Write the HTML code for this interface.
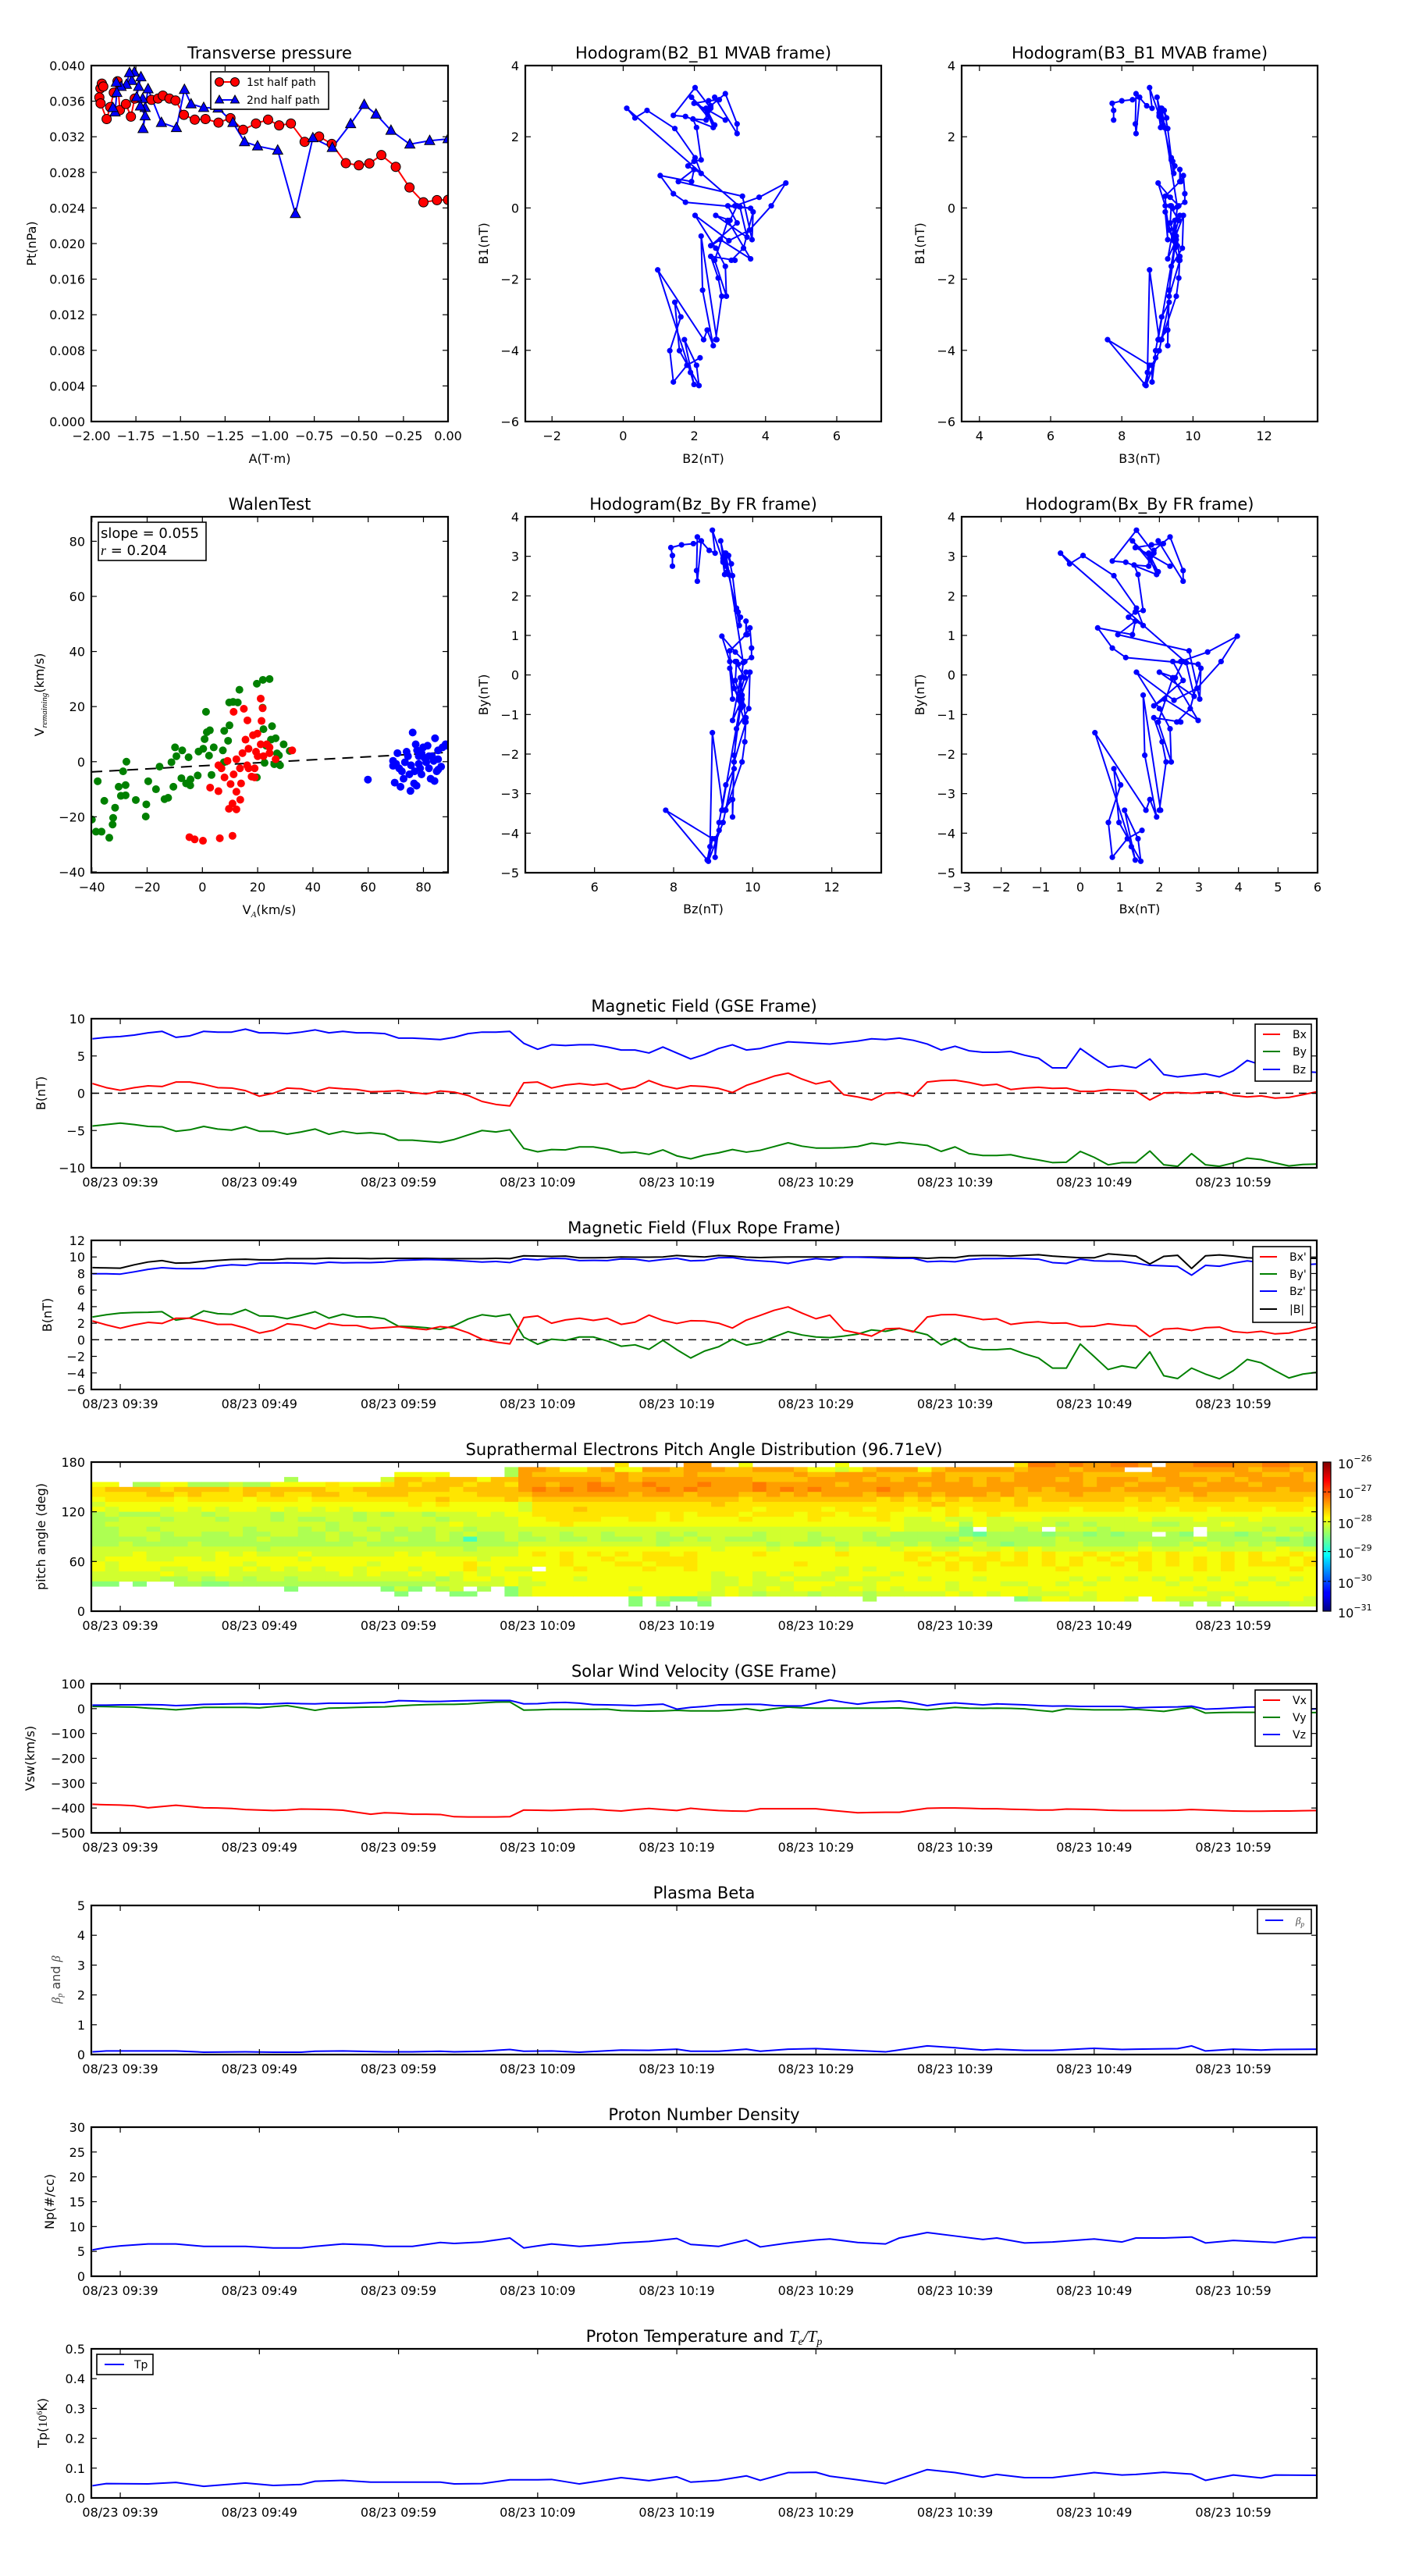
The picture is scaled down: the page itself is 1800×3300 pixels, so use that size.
<!DOCTYPE html>
<html><head><meta charset="utf-8">
<style>
html,body{margin:0;padding:0;background:#fff;}
svg{display:block;font-family:"DejaVu Sans","Liberation Sans",sans-serif;}
</style></head>
<body>
<svg id="fig" xmlns="http://www.w3.org/2000/svg" width="1800" height="3300" viewBox="0 0 1800 3300">
<rect x="0" y="0" width="1800" height="3300" fill="#fff"></rect>
<defs>
<linearGradient id="jetgrad" x1="0" y1="1" x2="0" y2="0">
<stop offset="0" stop-color="#00007f"/><stop offset="0.11" stop-color="#0000ff"/><stop offset="0.125" stop-color="#0000ff"/>
<stop offset="0.34" stop-color="#00d4ff"/><stop offset="0.375" stop-color="#00ffff"/><stop offset="0.5" stop-color="#7fff7f"/>
<stop offset="0.625" stop-color="#ffff00"/><stop offset="0.75" stop-color="#ff8000"/><stop offset="0.875" stop-color="#ff0000"/><stop offset="1" stop-color="#7f0000"/>
</linearGradient>
</defs>
</svg>
<script>
// ---------------- DATA ----------------
const ptRedA = [-1.949,-1.941,-1.933,-1.955,-1.948,-1.914,-1.894,-1.874,-1.853,-1.840,-1.806,-1.778,-1.757,-1.663,-1.626,-1.599,-1.562,-1.528,-1.481,-1.420,-1.360,-1.287,-1.220,-1.149,-1.077,-1.009,-0.947,-0.881,-0.804,-0.723,-0.652,-0.573,-0.500,-0.441,-0.374,-0.293,-0.216,-0.138,-0.062,0.000];
const ptRedP = [0.03744,0.03797,0.03764,0.03642,0.03575,0.03399,0.03534,0.03696,0.03824,0.03500,0.03568,0.03426,0.03629,0.03615,0.03629,0.03662,0.03629,0.03608,0.03446,0.03392,0.03399,0.03359,0.03409,0.03278,0.03349,0.03392,0.03328,0.03349,0.03143,0.03203,0.03119,0.02903,0.02879,0.02900,0.02994,0.02862,0.02630,0.02464,0.02488,0.02491];
const ptBlueA = [0.000,-0.103,-0.214,-0.320,-0.404,-0.470,-0.546,-0.649,-0.758,-0.856,-0.955,-1.068,-1.141,-1.206,-1.289,-1.370,-1.441,-1.478,-1.523,-1.607,-1.682,-1.698,-1.710,-1.698,-1.725,-1.712,-1.746,-1.735,-1.722,-1.759,-1.773,-1.786,-1.803,-1.833,-1.860,-1.857,-1.867,-1.879];
const ptBlueP = [0.03176,0.03156,0.03116,0.03271,0.03453,0.03561,0.03345,0.03078,0.03187,0.02336,0.03048,0.03095,0.03143,0.03359,0.03521,0.03527,0.03568,0.03730,0.03301,0.03359,0.03737,0.03527,0.03291,0.03433,0.03544,0.03629,0.03646,0.03764,0.03872,0.03926,0.03831,0.03919,0.03787,0.03764,0.03811,0.03696,0.03477,0.03527];

const walenGreenX = [-40,-38.5,-36.5,-37.9,-35.5,-33.7,-32.5,-32.3,-31.6,-30.3,-29.5,-28.7,-27.8,-27.8,-27.5,-24.1,-20.3,-20.5,-19.6,-16.8,-15.5,-13.7,-12.4,-10.5,-11.2,-9.9,-9.4,-7.3,-7.6,-5.9,-5.0,-4.3,-4.4,-1.4,-1.7,0.3,0.8,1.3,1.6,2.7,2.4,3.3,4.1,7.4,7.9,7.8,9.3,9.8,9.7,11.1,12.8,13.4,19.7,21.9,24.3,21.8,22.1,23.1,25.2,24.8,26.5,28.1,27.0,29.4,31.6,19.7,22.5,26.0,27.7];
const walenGreenY = [-21,-25.4,-25.4,-7.1,-14.2,-27.6,-22.8,-20.4,-16.7,-9.1,-12.4,-3.5,-8.5,-12.2,0,-13.9,-15.5,-19.9,-7.1,-10.0,-1.8,-13.6,-13.1,-9.1,-0.2,5.2,2.0,4.1,-6.0,-7.9,1.6,-6.4,-8.6,3.7,-5.0,4.7,8.2,18.1,10.7,11.4,2.2,-4.8,5.2,4.1,11.2,-0.2,7.6,13.2,21.5,21.7,21.5,26.1,28.3,29.7,30.0,19.6,11.8,5.8,12.9,8.0,8.5,-1.3,3.0,6.3,3.9,-5.7,-0.4,-0.9,2.3];
const walenRedX = [-4.7,-2.8,0.2,6.3,10.9,2.8,5.8,9.6,10.9,12.3,12.3,13.7,14.0,10.2,11.3,15.0,16.3,21.1,21.8,21.4,17.8,18.9,16.2,16.7,18.3,19.9,22.1,24.3,26.5,32.5,6.9,9.1,5.8,12.3,14.5,15.6,19.4,13.6,18.9,21.1,23.3,8.0,11.3,16.7,20.0,24.3];
const walenRedY = [-27.4,-28.2,-28.7,-27.8,-26.9,-9.4,-10.7,-17.1,-15.2,-17.3,-10.9,-13.8,-7.9,-8.1,18.1,19.2,15.0,22.9,19.4,14.8,-5.4,-5.7,-1.3,4.7,9.6,10.2,2.0,3.1,0.9,4.1,-2.4,0.3,-1.3,0.9,3.1,8.0,3.6,-2.4,-2.4,6.3,6.3,-5.7,-4.6,-2.4,2.0,5.2];
const walenBlueX = [59.9,70.6,69.0,69.0,69.6,71.7,72.8,75.3,76.1,76.6,77.5,77.2,77.7,78.3,78.8,79.3,79.9,81.0,82.0,83.1,84.2,85.3,84.0,82.6,84.8,85.3,86.4,88.0,73.3,71.2,74.4,75.5,72.2,74.9,78.3,80.4,81.5,83.7,86.9,70.1,73.9,76.8,79.3,82.0,85.3,88.6];
const walenBlueY = [-6.5,3.1,0.3,-1.5,-7.6,-9.1,-6.2,-10.6,10.6,-7.9,-8.7,6.3,4.1,2.0,-2.4,-4.6,5.2,-0.2,-2.4,2.0,8.5,4.1,-7.0,-6.2,-3.5,-2.9,-1.8,6.3,-0.2,-2.4,2.0,-1.3,-3.5,-4.6,-0.8,1.4,5.8,0.3,5.2,-0.8,3.6,-3.5,3.1,2.0,0.9,5.8];
const walenSlope = 0.055;
const walenIntercept = -1.5;
const walenR = 0.204;

const timeTicks = [0,10,20,30,40,50,60,70,80];
const timeTickLabels = ['08/23 09:39','08/23 09:49','08/23 09:59','08/23 10:09','08/23 10:19','08/23 10:29','08/23 10:39','08/23 10:49','08/23 10:59'];
const timeStart = -2;

const bx = [1.3,0.75,0.4,0.75,1.0,0.9,1.5,1.5,1.2,0.75,0.7,0.35,-0.4,0,0.7,0.6,0.2,0.75,0.6,0.5,0.2,0.25,0.35,0.1,-0.1,0.3,0.15,-0.3,-1.1,-1.5,-1.7,1.4,1.5,0.7,1.1,1.3,1.1,1.3,0.5,0.8,1.7,1.0,0.6,1.0,0.9,
0.65,0.1,1.05,1.65,2.3,2.7,1.9,1.25,1.65,-0.2,-0.5,-0.9,0,0.1,-0.4,1.5,1.7,1.75,1.45,1.05,1.2,0.5,0.7,0.8,0.65,0.7,0.25,0.25,0.5,0.4,0.3,-0.9,0.05,0.1,0,0.15,0.2,-0.3,-0.5,-0.35,-0.65,-0.55,-0.2,0.2];
const by = [-4.4,-4.2,-4.0,-4.2,-4.45,-4.5,-5.1,-4.9,-4.45,-4.8,-4.95,-4.5,-5.1,-5.1,-5.5,-5.2,-4.8,-5.5,-5.1,-5.4,-5.3,-5.5,-6.3,-6.3,-6.45,-6.6,-6.2,-5.6,-5.0,-5.2,-4.9,-7.4,-7.85,-7.55,-7.6,-7.2,-7.2,-7.5,-8.0,-7.9,-8.2,-7.6,-8.4,-8.8,-8.3,
-8.0,-7.55,-7.9,-7.65,-7.15,-6.65,-7.1,-7.35,-7.35,-7.3,-7.15,-6.7,-6.9,-6.6,-6.8,-7.0,-7.8,-7.2,-8.1,-8.35,-8.35,-8.25,-8.65,-8.95,-9.3,-9.25,-7.8,-8.6,-9.6,-9.3,-9.3,-7.75,-9.6,-9.8,-8.1,-9.6,-9.8,-9.35,-8.7,-8.9,-9.35,-9.75,-9.55,-9.5];
const bz = [7.3,7.5,7.6,7.8,8.1,8.3,7.5,7.7,8.3,8.2,8.2,8.6,8.1,8.1,8.0,8.2,8.5,8.1,8.3,8.1,8.1,8.0,7.4,7.4,7.3,7.2,7.5,8.0,8.2,8.2,8.3,6.7,5.9,6.5,6.4,6.5,6.5,6.2,5.8,5.8,5.4,6.2,5.4,4.6,5.2,
6.0,6.5,5.8,6.0,6.5,6.9,6.8,6.7,6.6,6.8,7.0,7.3,7.2,7.4,7.1,6.6,5.8,6.3,5.7,5.5,5.5,5.6,5.1,4.7,3.4,3.4,6.0,4.7,3.5,3.7,3.4,4.6,2.5,2.2,2.4,2.6,2.2,3.0,4.4,3.8,3.5,3.1,2.9,2.8];

const bxp = [2.27,1.8,1.39,1.8,2.1,1.97,2.6,2.6,2.27,1.86,1.86,1.42,0.81,1.15,1.93,1.76,1.32,1.97,1.73,1.73,1.36,1.46,1.59,1.39,1.22,1.59,1.42,0.85,0.07,-0.27,-0.5,2.68,2.88,2.0,2.4,2.6,2.34,2.6,1.86,2.13,2.98,2.34,1.97,2.3,2.27,
2.0,1.42,2.37,2.95,3.56,3.97,3.22,2.54,2.98,1.15,0.81,0.44,1.32,1.39,0.95,2.75,3.02,3.05,2.78,2.44,2.54,1.86,2.07,2.17,2.0,2.03,1.59,1.63,1.93,1.76,1.66,0.37,1.29,1.39,1.12,1.46,1.53,0.98,0.85,1.02,0.71,0.81,1.19,1.56];
const byp = [2.75,3.02,3.22,3.29,3.32,3.39,2.37,2.64,3.49,3.15,3.08,3.66,2.88,2.85,2.54,2.95,3.39,2.61,3.08,2.75,2.78,2.54,1.63,1.59,1.46,1.25,1.69,2.51,3.02,2.81,3.08,0.31,-0.54,0.07,-0.07,0.34,0.34,-0.14,-0.78,-0.61,-1.15,-0.07,-1.19,-2.2,-1.36,
-0.85,0.07,-0.64,-0.34,0.34,0.98,0.58,0.34,0.27,0.44,0.68,1.19,1.02,1.36,1.02,0.61,-0.61,0.17,-0.85,-1.19,-1.19,-1.08,-1.69,-2.2,-3.42,-3.42,-0.51,-2.03,-3.59,-3.15,-3.42,-1.46,-4.34,-4.68,-3.42,-4.14,-4.71,-3.73,-2.37,-2.78,-3.73,-4.61,-4.14,-3.93];
const bzp = [7.97,7.97,7.93,8.2,8.5,8.7,8.6,8.58,8.6,8.9,9.05,8.98,9.25,9.25,9.29,9.25,9.19,9.36,9.29,9.32,9.32,9.39,9.59,9.63,9.69,9.66,9.59,9.49,9.39,9.46,9.32,9.76,9.66,9.83,9.8,9.56,9.59,9.56,9.76,9.73,9.49,9.69,9.83,9.53,9.59,
9.9,9.93,9.66,9.53,9.42,9.22,9.56,9.8,9.63,9.97,9.97,9.93,9.86,9.83,9.83,9.42,9.49,9.42,9.69,9.8,9.8,9.83,9.8,9.73,9.32,9.22,9.73,9.53,9.49,9.49,9.25,8.98,8.92,8.85,7.8,8.98,8.88,9.25,9.53,9.32,9.15,9.05,9.05,9.15];
const bt = [8.71,8.68,8.64,9.05,9.39,9.56,9.25,9.29,9.49,9.59,9.69,9.73,9.66,9.66,9.8,9.8,9.8,9.86,9.83,9.83,9.8,9.83,9.83,9.83,9.83,9.8,9.8,9.8,9.8,9.83,9.8,10.14,10.1,10.07,10.1,9.9,9.9,9.93,10.0,9.97,9.97,10.0,10.17,10.07,10.0,
10.17,10.1,9.97,9.93,9.97,10.0,10.0,10.0,10.0,10.0,10.0,10.0,9.97,9.93,9.93,9.83,9.93,9.9,10.14,10.17,10.17,10.1,10.2,10.27,10.1,10.0,9.9,9.9,10.37,10.24,10.1,9.15,10.07,10.2,8.61,10.14,10.24,10.1,9.9,9.83,9.83,9.83,9.83,9.83];

const b1 = [2.47,2.74,2.94,3.01,3.04,3.11,2.09,2.36,3.21,2.87,2.80,3.38,2.60,2.57,2.26,2.67,3.11,2.33,2.80,2.47,2.50,2.26,1.35,1.31,1.18,0.97,1.41,2.23,2.74,2.53,2.80,0.03,-0.82,-0.21,-0.35,0.06,0.06,-0.42,-1.06,-0.89,-1.43,-0.35,-1.47,-2.48,-1.64,
-1.13,-0.21,-0.92,-0.62,0.06,0.70,0.30,0.06,-0.01,0.16,0.40,0.91,0.74,1.08,0.74,0.33,-0.89,-0.11,-1.13,-1.47,-1.47,-1.36,-1.97,-2.48,-3.70,-3.70,-0.79,-2.31,-3.87,-3.43,-3.70,-1.74,-4.62,-4.96,-3.70,-4.42,-4.99,-4.01,-2.65,-3.06,-4.01,-4.89,-4.42,-4.21];
const b2 = [2.87,2.40,1.99,2.40,2.70,2.57,3.20,3.20,2.87,2.46,2.46,2.02,1.41,1.75,2.53,2.36,1.92,2.57,2.33,2.33,1.96,2.06,2.19,1.99,1.82,2.19,2.02,1.45,0.67,0.33,0.10,3.28,3.48,2.60,3.00,3.20,2.94,3.20,2.46,2.73,3.58,2.94,2.57,2.90,2.87,
2.60,2.02,2.97,3.55,4.16,4.57,3.82,3.14,3.58,1.75,1.41,1.04,1.92,1.99,1.55,3.35,3.62,3.65,3.38,3.04,3.14,2.46,2.67,2.77,2.60,2.63,2.19,2.23,2.53,2.36,2.26,0.97,1.89,1.99,1.72,2.06,2.13,1.58,1.45,1.62,1.31,1.41,1.79,2.16];
const b3 = [7.77,7.77,7.73,8.00,8.30,8.50,8.40,8.38,8.40,8.70,8.85,8.78,9.05,9.05,9.09,9.05,8.99,9.16,9.09,9.12,9.12,9.19,9.39,9.43,9.49,9.46,9.39,9.29,9.19,9.26,9.12,9.56,9.46,9.63,9.60,9.36,9.39,9.36,9.56,9.53,9.29,9.49,9.63,9.33,9.39,
9.70,9.73,9.46,9.33,9.22,9.02,9.36,9.60,9.43,9.77,9.77,9.73,9.66,9.63,9.63,9.22,9.29,9.22,9.49,9.60,9.60,9.63,9.60,9.53,9.12,9.02,9.53,9.33,9.29,9.29,9.05,8.78,8.72,8.65,7.60,8.78,8.68,9.05,9.33,9.12,8.95,8.85,8.85,8.95];

const vx = [-385,-387,-388,-391,-399,-394,-389,-394,-399,-400,-402,-406,-408,-410,-408,-404,-405,-406,-409,-417,-425,-419,-421,-425,-425,-426,-435,-436,-436,-436,-435,-408,-409,-410,-408,-405,-404,-409,-412,-406,-402,-406,-410,-401,-406,
-410,-412,-413,-403,-403,-403,-403,-403,-409,-414,-419,-418,-417,-417,-409,-401,-400,-400,-401,-403,-403,-405,-406,-408,-408,-404,-405,-406,-409,-410,-410,-410,-410,-409,-406,-408,-410,-412,-413,-413,-412,-412,-411,-410];
const vy = [9,8,7,6,2,-1,-5,0,5,5,5,5,3,8,12,3,-7,2,3,5,6,7,11,14,16,17,17,19,23,26,27,-6,-5,-3,-3,-3,-3,-2,-8,-9,-10,-9,-7,-9,-9,
-9,-6,0,-8,0,6,3,2,2,2,2,2,2,3,-1,-5,0,5,2,1,2,1,-1,-7,-12,-1,-3,-5,-5,-5,-3,-7,-11,-3,5,-18,-16,-15,-15,-15,-15,-15,-16,-16];
const vz = [14,14,15,15,16,15,12,14,17,18,19,20,18,19,22,20,19,22,22,22,24,25,32,31,29,29,31,32,33,33,33,19,20,24,25,22,16,15,14,12,15,18,-2,5,9,
15,16,17,17,12,11,11,23,35,26,18,25,28,31,23,12,19,23,19,15,19,17,15,12,10,11,9,9,9,9,3,5,6,7,10,-2,0,3,6,7,7,-2,-3,-1];

const plasmaIdx = [0,1,4,6,8,11,13,15,16,18,21,23,25,26,28,30,31,33,35,38,40,42,43,44,45,47,48,50,52,57,60,62,64,65,67,69,72,74,75,78,79,80,82,84,85,88];
const betaP = [0.09,0.12,0.12,0.12,0.08,0.09,0.08,0.08,0.11,0.12,0.09,0.09,0.11,0.09,0.11,0.17,0.11,0.12,0.08,0.15,0.14,0.18,0.11,0.11,0.11,0.18,0.11,0.18,0.20,0.09,0.29,0.23,0.15,0.18,0.14,0.14,0.21,0.17,0.18,0.20,0.29,0.12,0.18,0.15,0.17,0.18];
const densityIdx = [0,1,2,4,6,8,11,13,15,16,18,20,21,23,25,26,28,30,31,32,33,35,37,38,40,42,43,44,45,47,48,50,52,53,55,57,58,60,62,64,65,67,69,72,74,75,77,79,80,82,85,87,88];
const density = [5.3,5.8,6.1,6.5,6.5,6.0,6.0,5.7,5.7,6.0,6.5,6.3,6.0,6.0,6.8,6.6,6.9,7.7,5.7,6.1,6.5,6.0,6.4,6.7,7.0,7.6,6.4,6.2,6.0,7.3,5.9,6.7,7.3,7.5,6.8,6.5,7.7,8.8,8.1,7.4,7.7,6.7,6.9,7.5,6.9,7.7,7.7,7.9,6.7,7.2,6.8,7.8,7.8];
const tempIdx = [0,1,4,6,8,11,13,15,16,18,20,23,25,26,28,30,32,33,35,38,40,42,43,44,45,47,48,50,52,53,55,57,60,62,64,65,67,69,72,74,75,77,79,80,82,84,85,88];
const tempP = [0.041,0.048,0.047,0.052,0.039,0.050,0.042,0.045,0.056,0.059,0.053,0.053,0.053,0.047,0.048,0.061,0.061,0.062,0.047,0.068,0.058,0.071,0.053,0.056,0.059,0.074,0.059,0.085,0.086,0.073,0.061,0.048,0.095,0.085,0.070,0.079,0.068,0.068,0.085,0.077,0.079,0.086,0.080,0.059,0.077,0.067,0.077,0.076];

const padRows = [
"......................"+"........."+".......6....88"+"..5......5...."+"........699898"+"8998.88999889988",
"......................"+"........3"+"88755785588788"+"87788875545788"+"85788888788878"+"88..888888878878",
"......................"+"5555....3"+"87777778777787"+"77777787788877"+"77877777888887"+"7777887777887787",
"..............3......4"+"776777577"+"88888878788888"+"88877778888787"+"88878787888787"+"8887788878788887",
"55.3355333433555565556"+"767776776"+"88788988898889"+"88898888878888"+"87888788888887"+"8878888788878888",
"6777767777677777766777"+"777767777"+"89898998889898"+"88898989888898"+"88888888787888"+"8788878888888788",
"6666776766676766776677"+"766666777"+"78888888788878"+"88778787888788"+"78788878777787"+"7777777877777777",
"5666665666656665666666"+"666766667"+"67777777777777"+"77677777777767"+"67676776767777"+"7767676777677776",
"4555555555555555555555"+"565655555"+"46666666666666"+"76666666666666"+"66766666766666"+"6666666666666666",
"5455545454554545454555"+"555555555"+"46667666666666"+"66656666566566"+"56565666666656"+"6656656656665665",
"3433344434444344444343"+"443444545"+"56666666665656"+"66566656656665"+"55565565555555"+"5555555555555555",
"3344434443444343344344"+"444344444"+"55666655665655"+"55655556555565"+"44544544554444"+"4445444544454444",
"3444444444444444434444"+"444454444"+"55565555555555"+"55555555555555"+"44453544444343"+"4444334445444444",
"3344344444434443434434"+"343443444"+"44444444444444"+"44444444444445"+"44442.4434.444"+"3444444.44443434",
"3344434433433443343443"+"333434334"+"34434434443434"+"44434443444343"+"33332133332332"+"3233.32.33234443",
"3333433333334333343343"+"433430334"+"33433433343343"+"43334443344333"+"33324333333433"+"3333333433333232",
"3343333433333333333433"+"333333333"+"44444444443444"+"44443433434434"+"34333432333443"+"3334334343434332",
"4444444444443444444444"+"444443444"+"55555555555555"+"45554555545554"+"55445445454444"+"4445444544444544",
"4445444445454445444444"+"545444444"+"56565656566565"+"55565555565555"+"66565565656556"+"5656565556565565",
"4555445545555554555555"+"555555455"+"55565565566665"+"55555555555555"+"65656665656565"+"6566565656565656",
"5455555555545555555545"+"555556555"+"55565556656665"+"55555565555555"+"56565656656565"+"5656565656566656",
"5455544555454545455455"+"545556454"+"4.556555565565"+"55555555545455"+"55565655555655"+"5556555656555565",
"4444454445444444445454"+"454545455"+"55555555555555"+"45545455445554"+"55555555555555"+"5555555555555555",
"4444433434434434444444"+"444345545"+"45554555555555"+"44544544455445"+"54555455555545"+"4545454545544545",
"22.2..3322333333333333"+"333444445"+"44555555555555"+"44544455544455"+"55545554455454"+"5555545555455455",
"..............2......2"+"42.34.3.2"+"45555555455555"+"45445455445454"+"55545555545555"+"5555555455555555",
"......................"+"2...22..2"+"45555555555554"+"45434443444344"+"44454545544454"+"5555555544555555",
"......................"+"........."+"........2.3223"+"...........3.."+"........235544"+"554.544445455554",
"......................"+"........."+"........2.2..2"+".............."+".............."+"......3.3.333344",
"......................"+"........."+".............."+".............."+".............."+"................"
];
const padColStart = -2.08;
const padColWidth = 0.99;
const padBinDeg = 6;
const cbarTicks = [-31,-30,-29,-28,-27,-26];

// ---------------- DRAWING ----------------
const NS = 'http://www.w3.org/2000/svg';
const svg = document.getElementById('fig');
let clipCount = 0;
function el(tag, attrs, parent) {
  const e = document.createElementNS(NS, tag);
  for (const k in attrs) e.setAttribute(k, attrs[k]);
  (parent || svg).appendChild(e);
  return e;
}
function fmtNum(v, dec) {
  const s = Math.abs(v).toFixed(dec);
  return (v < 0 && Number(s) !== 0 ? '\u2212' : '') + s;
}
function txt(parent, x, y, s, size, anchor, rot) {
  const t = el('text', {x: x, y: y, 'font-size': size, 'text-anchor': anchor || 'middle', fill: '#000'}, parent);
  if (rot) t.setAttribute('transform', 'rotate(' + rot + ' ' + x + ' ' + y + ')');
  t.textContent = s;
  return t;
}
function makeAxes(p) {
  const g = el('g', {}, svg);
  
  
  const sx = v => p.x + (v - p.xlim[0]) / (p.xlim[1] - p.xlim[0]) * p.w;
  const sy = v => p.y + p.h - (v - p.ylim[0]) / (p.ylim[1] - p.ylim[0]) * p.h;
  const id = 'clip' + (clipCount++);
  const cp = el('clipPath', {id: id}, g);
  el('rect', {x: p.x, y: p.y, width: p.w, height: p.h}, cp);
  const data = el('g', {'clip-path': 'url(#' + id + ')'}, g);
  
  
  return {p, g, data, sx, sy};
}
function finishAxes(A) {
  const p = A.p, g = A.g;
  const tg = el('g', {stroke: '#000', 'stroke-width': 1.2}, g);
  
  
  const L = 7;
  p.xticks.forEach((v, i) => {
    const X = A.sx(v);
    el('line', {x1: X, y1: p.y + p.h, x2: X, y2: p.y + p.h - L}, tg);
    el('line', {x1: X, y1: p.y, x2: X, y2: p.y + L}, tg);
    const t = txt(g, X, p.y + p.h + 24, p.xlabels[i], 16, 'middle');
    
    
  });
  p.yticks.forEach((v, i) => {
    const Y = A.sy(v);
    el('line', {x1: p.x, y1: Y, x2: p.x + L, y2: Y}, tg);
    el('line', {x1: p.x + p.w, y1: Y, x2: p.x + p.w - L, y2: Y}, tg);
    const t = txt(g, p.x - 8, Y + 6, p.ylabels[i], 16, 'end');
    
    
  });
  const fr = el('rect', {x: p.x, y: p.y, width: p.w, height: p.h, fill: 'none', stroke: '#000', 'stroke-width': 2.2}, g);
  
  
  if (p.title) {
    const t = txt(g, p.x + p.w / 2, p.y - 9, p.title, 21, 'middle');
    
    
  }
  if (p.xlabel) {
    const t = txt(g, p.x + p.w / 2, p.xlabelY, p.xlabel, 16, 'middle');
    
    
  }
  if (p.ylabel) {
    const t = txt(g, p.ylabelX, p.y + p.h / 2, p.ylabel, 16, 'middle', -90);
    
    
  }
}
function polyline(A, xs, ys, color, width, name) {
  const pts = xs.map((x, i) => A.sx(x).toFixed(2) + ',' + A.sy(ys[i]).toFixed(2)).join(' ');
  const l = el('polyline', {points: pts, fill: 'none', stroke: color, 'stroke-width': width || 2, 'stroke-linejoin': 'round'}, A.data);
  
  
  return l;
}
function rangeTicks(a, b, s) { const r = []; for (let v = a; v <= b + 1e-9; v += s) r.push(Math.round(v * 1000) / 1000); return r; }

// ---- Transverse pressure ----
{
  const xt = rangeTicks(-2, 0, 0.25), yt = rangeTicks(0, 0.04, 0.004);
  const A = makeAxes({name: 'transverse-pressure-chart', x: 117, y: 84, w: 457, h: 456, xlim: [-2, 0], ylim: [0, 0.04],
    xticks: xt, xlabels: xt.map(v => fmtNum(v, 2)), yticks: yt, ylabels: yt.map(v => fmtNum(v, 3)),
    title: 'Transverse pressure', xlabel: 'A(T\u00b7m)', xlabelY: 593, ylabel: 'Pt(nPa)', ylabelX: 46});
  polyline(A, ptRedA, ptRedP, '#ff0000', 2, 'first-half-path-line');
  polyline(A, ptBlueA, ptBlueP, '#0000ff', 2, 'second-half-path-line');
  ptRedA.forEach((a, i) => {
    const c = el('circle', {cx: A.sx(a), cy: A.sy(ptRedP[i]), r: 6, fill: '#ff0000', stroke: '#000', 'stroke-width': 1}, A.data);
    
    
  });
  ptBlueA.forEach((a, i) => {
    const X = A.sx(a), Y = A.sy(ptBlueP[i]);
    const t = el('polygon', {points: X + ',' + (Y - 7) + ' ' + (X - 6.5) + ',' + (Y + 5) + ' ' + (X + 6.5) + ',' + (Y + 5), fill: '#0000ff', stroke: '#000', 'stroke-width': 1}, A.data);
    
    
  });
  finishAxes(A);
  const lg = el('g', {}, A.g);
  
  
  el('rect', {x: 270, y: 92, width: 151, height: 48, fill: '#fff', stroke: '#000', 'stroke-width': 1.6}, lg);
  el('line', {x1: 281, y1: 105, x2: 301, y2: 105, stroke: '#ff0000', 'stroke-width': 2}, lg);
  el('circle', {cx: 281, cy: 105, r: 5.5, fill: '#ff0000', stroke: '#000'}, lg);
  el('circle', {cx: 301, cy: 105, r: 5.5, fill: '#ff0000', stroke: '#000'}, lg);
  el('line', {x1: 281, y1: 128, x2: 301, y2: 128, stroke: '#0000ff', 'stroke-width': 2}, lg);
  el('polygon', {points: '281,122 275.5,132 286.5,132', fill: '#0000ff', stroke: '#000'}, lg);
  el('polygon', {points: '301,122 295.5,132 306.5,132', fill: '#0000ff', stroke: '#000'}, lg);
  txt(lg, 316, 110, '1st half path', 14, 'start');
  txt(lg, 316, 133, '2nd half path', 14, 'start');
}

// ---- Hodograms ----
function hodogram(name, x, y, xlim, ylim, xt, yt, xs, ys, title, xl, yl, ylx, xly) {
  const A = makeAxes({name: name, x: x, y: y, w: 456, h: 456, xlim: xlim, ylim: ylim,
    xticks: xt, xlabels: xt.map(v => fmtNum(v, 0)), yticks: yt, ylabels: yt.map(v => fmtNum(v, 0)),
    title: title, xlabel: xl, xlabelY: xly, ylabel: yl, ylabelX: ylx});
  polyline(A, xs, ys, '#0000ff', 2, name + '-path');
  xs.forEach((v, i) => {
    const c = el('circle', {cx: A.sx(v), cy: A.sy(ys[i]), r: 3.6, fill: '#0000ff'}, A.data);
    
    
  });
  finishAxes(A);
}
hodogram('hodogram-b2-b1', 673, 84, [-2.75, 7.25], [-6, 4], rangeTicks(-2, 6, 2), rangeTicks(-6, 4, 2), b2, b1, 'Hodogram(B2_B1 MVAB frame)', 'B2(nT)', 'B1(nT)', 625, 593);
hodogram('hodogram-b3-b1', 1232, 84, [3.5, 13.5], [-6, 4], rangeTicks(4, 12, 2), rangeTicks(-6, 4, 2), b3, b1, 'Hodogram(B3_B1 MVAB frame)', 'B3(nT)', 'B1(nT)', 1184, 593);
hodogram('hodogram-bz-by', 673, 662, [4.25, 13.25], [-5, 4], rangeTicks(6, 12, 2), rangeTicks(-5, 4, 1), bzp, byp, 'Hodogram(Bz_By FR frame)', 'Bz(nT)', 'By(nT)', 625, 1170);
hodogram('hodogram-bx-by', 1232, 662, [-3, 6], [-5, 4], rangeTicks(-3, 6, 1), rangeTicks(-5, 4, 1), bxp, byp, 'Hodogram(Bx_By FR frame)', 'Bx(nT)', 'By(nT)', 1184, 1170);

// ---- Walen test ----
{
  const xt = rangeTicks(-40, 80, 20);
  const A = makeAxes({name: 'walen-test-chart', x: 117, y: 662, w: 457, h: 456, xlim: [-40.2, 88.9], ylim: [-40.3, 88.9],
    xticks: xt, xlabels: xt.map(v => fmtNum(v, 0)), yticks: xt, ylabels: xt.map(v => fmtNum(v, 0)), title: 'WalenTest'});
  const dl = el('line', {x1: A.sx(-40.2), y1: A.sy(walenIntercept + walenSlope * -40.2), x2: A.sx(88.9), y2: A.sy(walenIntercept + walenSlope * 88.9), stroke: '#000', 'stroke-width': 2, 'stroke-dasharray': '14,9'}, A.data);
  
  
  [[walenGreenX, walenGreenY, '#008000', 'walen-point-green'], [walenRedX, walenRedY, '#ff0000', 'walen-point-red'], [walenBlueX, walenBlueY, '#0000ff', 'walen-point-blue']].forEach(s => {
    s[0].forEach((v, i) => {
      const c = el('circle', {cx: A.sx(v), cy: A.sy(s[1][i]), r: 5, fill: s[2]}, A.data);
      
      
    });
  });
  finishAxes(A);
  const xlab = el('text', {x: 345, y: 1171, 'font-size': 16, 'text-anchor': 'middle'}, A.g);
  
  
  xlab.innerHTML = 'V<tspan font-family="Liberation Serif" font-style="italic" font-size="11" dy="4">A</tspan><tspan dy="-4">(km/s)</tspan>';
  const ylab = el('text', {x: 56, y: 890, 'font-size': 16, 'text-anchor': 'middle', transform: 'rotate(-90 56 890)'}, A.g);
  
  
  ylab.innerHTML = 'V<tspan font-family="Liberation Serif" font-style="italic" font-size="11" dy="4">remaining</tspan><tspan dy="-4">(km/s)</tspan>';
  const box = el('g', {}, A.g);
  
  
  el('rect', {x: 126, y: 669, width: 138, height: 49, fill: '#fff', stroke: '#000', 'stroke-width': 1.6}, box);
  txt(box, 129, 689, 'slope = ' + walenSlope.toFixed(3), 18, 'start');
  const rt = el('text', {x: 129, y: 711, 'font-size': 18}, box);
  rt.innerHTML = '<tspan font-family="Liberation Serif" font-style="italic">r</tspan> = ' + walenR.toFixed(3);
}

// ---- Time series panels ----
const TX = 117, TW = 1570, TH = 191, TLIM = [-2.08, 86.0];
const idxTimes = n => Array.from({length: n}, (_, i) => timeStart + i);
function tsAxes(name, top, ylim, yt, ylabels, title, ylabel, ylx) {
  return makeAxes({name: name, x: TX, y: top, w: TW, h: TH, xlim: TLIM, ylim: ylim, xticks: timeTicks, xlabels: timeTickLabels,
    yticks: yt, ylabels: ylabels, title: title, ylabel: ylabel, ylabelX: ylx});
}
function legend(parent, name, x, y, w, h, entries, lx1, lx2, tx, size) {
  const lg = el('g', {}, parent);
  
  
  el('rect', {x: x, y: y, width: w, height: h, fill: '#fff', stroke: '#000', 'stroke-width': 1.6}, lg);
  entries.forEach(e => {
    el('line', {x1: lx1, y1: e[2], x2: lx2, y2: e[2], stroke: e[1], 'stroke-width': 2}, lg);
    const t = el('text', {x: tx, y: e[2] + 5, 'font-size': size || 14}, lg);
    t.innerHTML = e[0];
  });
  return lg;
}
function zeroLine(A) {
  const z = el('line', {x1: TX, y1: A.sy(0), x2: TX + TW, y2: A.sy(0), stroke: '#000', 'stroke-width': 1.4, 'stroke-dasharray': '10,7'}, A.data);
  
  
}
{
  const yt = [-10, -5, 0, 5, 10];
  const A = tsAxes('magnetic-field-gse-chart', 1305, [-10, 10], yt, yt.map(v => fmtNum(v, 0)), 'Magnetic Field (GSE Frame)', 'B(nT)', 58);
  const t = idxTimes(bx.length);
  zeroLine(A);
  polyline(A, t, bz, '#0000ff', 2, 'bz-line');
  polyline(A, t, by, '#008000', 2, 'by-line');
  polyline(A, t, bx, '#ff0000', 2, 'bx-line');
  finishAxes(A);
  legend(A.g, 'gse-legend', 1608, 1312, 72, 73, [['Bx', '#ff0000', 1325], ['By', '#008000', 1347], ['Bz', '#0000ff', 1370]], 1618, 1640, 1656);
}
{
  const yt = rangeTicks(-6, 12, 2);
  const A = tsAxes('magnetic-field-flux-rope-chart', 1589, [-6, 12], yt, yt.map(v => fmtNum(v, 0)), 'Magnetic Field (Flux Rope Frame)', 'B(nT)', 66);
  const t = idxTimes(bxp.length);
  zeroLine(A);
  polyline(A, t, bt, '#000000', 2, 'b-magnitude-line');
  polyline(A, t, bzp, '#0000ff', 2, 'bz-prime-line');
  polyline(A, t, byp, '#008000', 2, 'by-prime-line');
  polyline(A, t, bxp, '#ff0000', 2, 'bx-prime-line');
  finishAxes(A);
  legend(A.g, 'flux-rope-legend', 1605, 1597, 74, 97, [["Bx'", '#ff0000', 1610], ["By'", '#008000', 1632], ["Bz'", '#0000ff', 1654], ['|B|', '#000000', 1677]], 1614, 1636, 1652);
}
function jet(n) {
  const c = v => Math.round(255 * Math.max(0, Math.min(1, v)));
  return 'rgb(' + c(1.5 - Math.abs(4 * n - 3)) + ',' + c(1.5 - Math.abs(4 * n - 2)) + ',' + c(1.5 - Math.abs(4 * n - 1)) + ')';
}
{
  const yt = [0, 60, 120, 180];
  const A = tsAxes('pitch-angle-distribution-chart', 1873, [0, 180], yt, yt.map(String), 'Suprathermal Electrons Pitch Angle Distribution (96.71eV)', 'pitch angle (deg)', 58);
  const nRows = padRows.length;
  padRows.forEach((row, r) => {
    const lo = (nRows - 1 - r) * padBinDeg;
    for (let k = 0; k < row.length; k++) {
      const ch = row[k];
      if (ch === '.') continue;
      const logFlux = -31 + 5 * (0.44 + 0.035 * Number(ch));
      const n = (logFlux + 31) / 5;
      const x0 = A.sx(padColStart + k * padColWidth), x1 = A.sx(padColStart + (k + 1) * padColWidth);
      const y0 = A.sy(lo + padBinDeg), y1 = A.sy(lo);
      const c = el('rect', {x: x0.toFixed(2), y: y0.toFixed(2), width: (x1 - x0 + 0.4).toFixed(2), height: (y1 - y0 + 0.4).toFixed(2), fill: jet(n)}, A.data);
      
      
    }
  });
  finishAxes(A);
  const cb = el('g', {}, svg);
  
  
  el('rect', {x: 1695, y: 1873, width: 10, height: 191, fill: 'url(#jetgrad)', stroke: '#000', 'stroke-width': 1.2}, cb);
  cbarTicks.forEach(v => {
    const Y = 1873 + 191 - (v + 31) / 5 * 191;
    el('line', {x1: 1695, y1: Y, x2: 1699, y2: Y, stroke: '#000'}, cb);
    el('line', {x1: 1705, y1: Y, x2: 1701, y2: Y, stroke: '#000'}, cb);
    const t = el('text', {x: 1714, y: Y + 8, 'font-size': 16}, cb);
    t.innerHTML = '10<tspan font-size="11" dy="-9">' + fmtNum(v, 0) + '</tspan>';
  });
}
{
  const yt = rangeTicks(-500, 100, 100);
  const A = tsAxes('solar-wind-velocity-chart', 2157, [-500, 100], yt, yt.map(v => fmtNum(v, 0)), 'Solar Wind Velocity (GSE Frame)', 'Vsw(km/s)', 44);
  const t = idxTimes(vx.length);
  polyline(A, t, vx, '#ff0000', 2, 'vx-line');
  polyline(A, t, vy, '#008000', 2, 'vy-line');
  polyline(A, t, vz, '#0000ff', 2, 'vz-line');
  finishAxes(A);
  legend(A.g, 'velocity-legend', 1608, 2165, 72, 72, [['Vx', '#ff0000', 2178], ['Vy', '#008000', 2200], ['Vz', '#0000ff', 2222]], 1618, 1640, 1656);
}
{
  const yt = [0, 1, 2, 3, 4, 5];
  const A = tsAxes('plasma-beta-chart', 2441, [0, 5], yt, yt.map(String), 'Plasma Beta', null, 0);
  polyline(A, plasmaIdx.map(i => timeStart + i), betaP, '#0000ff', 2, 'beta-p-line');
  finishAxes(A);
  const yl = el('text', {x: 77, y: 2536, 'font-size': 16, 'text-anchor': 'middle', transform: 'rotate(-90 77 2536)', fill: '#444'}, A.g);
  
  
  yl.innerHTML = '<tspan font-family="Liberation Serif" font-style="italic">\u03b2</tspan><tspan font-family="Liberation Serif" font-style="italic" font-size="10" dy="3">p</tspan><tspan dy="-3"> and </tspan><tspan font-family="Liberation Serif" font-style="italic">\u03b2</tspan>';
  legend(A.g, 'beta-legend', 1611, 2446, 69, 31, [['<tspan font-family="Liberation Serif" font-style="italic" fill="#444">\u03b2</tspan><tspan font-family="Liberation Serif" font-style="italic" font-size="9" dy="3" fill="#444">p</tspan>', '#0000ff', 2460]], 1621, 1644, 1660, 13);
}
{
  const yt = rangeTicks(0, 30, 5);
  const A = tsAxes('proton-density-chart', 2725, [0, 30], yt, yt.map(String), 'Proton Number Density', 'Np(#/cc)', 69);
  polyline(A, densityIdx.map(i => timeStart + i), density, '#0000ff', 2, 'density-line');
  finishAxes(A);
}
{
  const yt = rangeTicks(0, 0.5, 0.1);
  const A = tsAxes('proton-temperature-chart', 3009, [0, 0.5], yt, yt.map(v => v.toFixed(1)), null, null, 0);
  polyline(A, tempIdx.map(i => timeStart + i), tempP, '#0000ff', 2, 'tp-line');
  finishAxes(A);
  const tt = el('text', {x: 902, y: 3000, 'font-size': 21, 'text-anchor': 'middle'}, A.g);
  
  
  tt.innerHTML = 'Proton Temperature and <tspan font-family="Liberation Serif" font-style="italic">T</tspan><tspan font-family="Liberation Serif" font-style="italic" font-size="14" dy="4">e</tspan><tspan font-family="Liberation Serif" font-style="italic" dy="-4">/T</tspan><tspan font-family="Liberation Serif" font-style="italic" font-size="14" dy="4">p</tspan>';
  const yl = el('text', {x: 60, y: 3104, 'font-size': 16, 'text-anchor': 'middle', transform: 'rotate(-90 60 3104)'}, A.g);
  
  
  yl.innerHTML = 'Tp(<tspan font-family="Liberation Serif">10</tspan><tspan font-family="Liberation Serif" font-size="10" dy="-6">6</tspan><tspan dy="6">K)</tspan>';
  legend(A.g, 'tp-legend', 124, 3016, 72, 26, [['Tp', '#0000ff', 3029]], 134, 159, 172);
}
</script>
</body></html>
